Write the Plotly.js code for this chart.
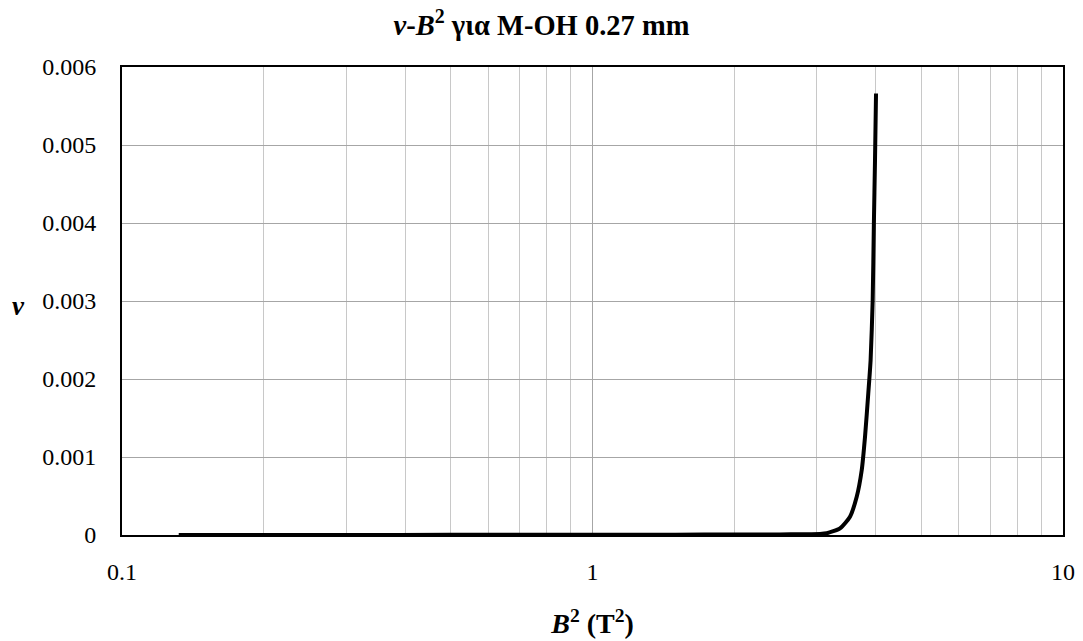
<!DOCTYPE html>
<html>
<head>
<meta charset="utf-8">
<script src="https://cdn.plot.ly/plotly-3.0.1.min.js"></script>
<style>html,body{margin:0;padding:0;background:#fff;}#chart{width:1083px;height:641px;}</style>
</head>
<body>
<div id="chart"></div>
<script>
// B^2 (T^2) values and corresponding v values
const bSquared = [0.132, 0.2, 0.3, 0.5, 0.7, 1.0, 1.5, 2.0, 2.5, 2.8, 3.045, 3.147, 3.357, 3.526, 3.644, 3.734, 3.795, 3.856, 3.90, 3.94, 3.963, 3.985, 4.005];
const vValues  = [0.000001, 0.000001, 0.000001, 0.000002, 0.000002, 0.000003, 0.000004, 0.000006, 0.000008, 0.000010, 0.000013, 0.000022, 0.000085, 0.000235, 0.00049, 0.00083, 0.00126, 0.001815, 0.00224, 0.00301, 0.00399, 0.0048, 0.00566];
const xTickVals = [0.1, 1, 10];
const yTickVals = [0, 0.001, 0.002, 0.003, 0.004, 0.005, 0.006];

const serif = "'Liberation Serif', 'Times New Roman', serif";

const trace = {
  x: bSquared,
  y: vValues,
  type: 'scatter',
  mode: 'lines',
  line: {color: '#000000', width: 4, shape: 'spline', smoothing: 0.6},
  hoverinfo: 'x+y'
};

const layout = {
  width: 1083,
  height: 641,
  margin: {l: 122, r: 20, t: 67, b: 106},
  paper_bgcolor: '#ffffff',
  plot_bgcolor: '#ffffff',
  showlegend: false,
  font: {family: serif, color: '#000000', size: 24},
  title: {
    text: '<b><i>v</i>-<i>B</i><sup>2</sup> για M-OH 0.27 mm</b>',
    font: {family: serif, size: 28.5, color: '#000000'},
    x: 0.5, xref: 'container', xanchor: 'center',
    y: 0.9616, yref: 'container', yanchor: 'middle'
  },
  xaxis: {
    type: 'log',
    range: [-1, 1],
    tickvals: xTickVals,
    ticktext: xTickVals.map(String),
    showgrid: true,
    gridcolor: '#a6a6a6',
    gridwidth: 1,
    minor: {dtick: 'D1', showgrid: true, gridcolor: '#c8c8c8', gridwidth: 1, ticks: ''},
    showline: true, mirror: true, linecolor: '#000000', linewidth: 2,
    ticks: '',
    ticklabelstandoff: 14,
    tickfont: {family: serif, size: 24, color: '#000000'},
    zeroline: false,
    title: {
      text: '<b><i>B</i><sup>2</sup> (T<sup>2</sup>)</b>',
      font: {family: serif, size: 28, color: '#000000'},
      standoff: 30
    }
  },
  yaxis: {
    range: [0, 0.006],
    tickvals: yTickVals,
    ticktext: yTickVals.map(v => v === 0 ? '0' : v.toFixed(3)),
    showgrid: true,
    gridcolor: '#a6a6a6',
    gridwidth: 1,
    showline: true, mirror: true, linecolor: '#000000', linewidth: 2,
    ticks: '',
    ticklabelstandoff: 19,
    tickfont: {family: serif, size: 24, color: '#000000'},
    zeroline: false
  },
  annotations: [{
    text: '<b><i>v</i></b>',
    xref: 'paper', yref: 'paper',
    x: -0.11, y: 0.49,
    xanchor: 'center', yanchor: 'middle',
    showarrow: false,
    font: {family: serif, size: 27, color: '#000000'}
  }]
};

Plotly.newPlot('chart', [trace], layout, {displayModeBar: false, staticPlot: true});
</script>
</body>
</html>
